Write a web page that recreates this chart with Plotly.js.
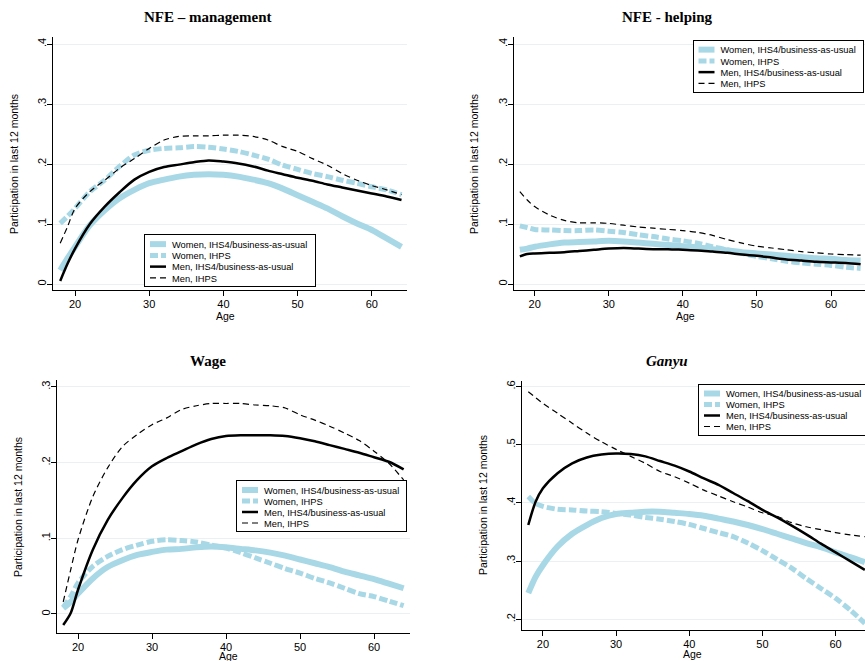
<!DOCTYPE html>
<html><head><meta charset="utf-8">
<script src="https://cdn.plot.ly/plotly-3.0.1.min.js"></script>
<style>html,body{margin:0;padding:0;background:#fff}#chart{width:865px;height:661px}</style>
</head><body><div id="chart"></div>
<script>
// ---------- data ----------
const ages = [18,19,20,22,24,26,28,30,32,34,36,38,40,42,44,46,48,50,52,54,56,58,60,62,64];
const seriesNames = ["Women, IHS4/business-as-usual","Women, IHPS","Men, IHS4/business-as-usual","Men, IHPS"];
const panelTitles = ["<b>NFE \u2013 management</b>","<b>NFE - helping</b>","<b>Wage</b>","<b><i>Ganyu</i></b>"];
const yAxisTitle = "Participation in last 12 months";
const xAxisTitle = "Age";
const xTicks = [20,30,40,50,60];

// NFE – management
const mgmtWomenIHS4 = [.023,.043,.062,.098,.123,.143,.157,.168,.174,.179,.182,.183,.182,.179,.174,.168,.159,.148,.137,.126,.113,.101,.090,.076,.062];
const mgmtWomenIHPS = [.101,.113,.126,.154,.173,.196,.215,.223,.226,.227,.229,.228,.225,.221,.215,.208,.198,.191,.184,.179,.173,.168,.162,.157,.149];
const mgmtMenIHS4   = [.005,.034,.059,.100,.129,.153,.174,.187,.195,.199,.203,.206,.204,.201,.196,.189,.183,.177,.172,.166,.161,.156,.151,.146,.140];
const mgmtMenIHPS   = [.068,.096,.126,.154,.173,.193,.209,.226,.240,.246,.247,.247,.248,.248,.246,.240,.229,.221,.209,.198,.184,.173,.164,.157,.149];

// NFE - helping
const helpWomenIHS4 = [.057,.059,.062,.066,.069,.070,.071,.072,.071,.069,.067,.065,.063,.061,.058,.056,.053,.051,.049,.047,.045,.043,.042,.040,.039];
const helpWomenIHPS = [.097,.094,.091,.090,.089,.089,.090,.088,.086,.082,.079,.075,.072,.068,.062,.057,.051,.046,.042,.038,.035,.033,.031,.028,.026];
const helpMenIHS4   = [.046,.050,.051,.052,.053,.055,.057,.059,.060,.059,.058,.058,.057,.056,.054,.052,.049,.047,.044,.041,.039,.037,.036,.035,.033];
const helpMenIHPS   = [.154,.140,.129,.115,.106,.102,.102,.101,.098,.095,.093,.091,.089,.086,.081,.074,.068,.063,.060,.057,.054,.052,.050,.049,.048];

// Wage
const wageWomenIHS4 = [.0075,.016,.027,.047,.062,.071,.078,.082,.085,.086,.088,.089,.088,.086,.084,.081,.077,.072,.067,.062,.056,.051,.046,.040,.034];
const wageWomenIHPS = [.009,.023,.041,.063,.076,.085,.091,.096,.098,.097,.095,.091,.087,.081,.074,.067,.060,.054,.047,.041,.034,.027,.023,.017,.011];
const wageMenIHS4   = [-.0145,.001,.032,.085,.124,.153,.177,.195,.206,.215,.224,.231,.235,.236,.236,.236,.235,.232,.228,.223,.218,.213,.207,.201,.191];
const wageMenIHPS   = [.016,.058,.098,.155,.193,.221,.237,.250,.259,.270,.275,.278,.278,.278,.276,.275,.272,.263,.256,.248,.239,.229,.215,.199,.177];

// Ganyu
const ganyuWomenIHS4 = [.245,.273,.293,.325,.347,.362,.374,.381,.383,.385,.385,.383,.381,.378,.373,.368,.362,.355,.347,.339,.331,.324,.315,.307,.298];
const ganyuWomenIHPS = [.411,.399,.394,.389,.388,.386,.385,.382,.379,.375,.372,.368,.363,.356,.349,.342,.331,.318,.303,.288,.270,.253,.236,.216,.193];
const ganyuMenIHS4   = [.362,.402,.425,.451,.468,.478,.483,.485,.484,.480,.472,.464,.454,.442,.431,.417,.403,.388,.375,.361,.346,.330,.315,.300,.285];
const ganyuMenIHPS   = [.591,.581,.571,.554,.537,.520,.505,.492,.480,.468,.454,.445,.434,.422,.412,.402,.393,.383,.377,.366,.359,.354,.349,.345,.342];

const yTicksNFE = [0,.1,.2,.3,.4];  const yTextNFE = ["0",".1",".2",".3",".4"];
const yTicksWage = [0,.1,.2,.3];    const yTextWage = ["0",".1",".2",".3"];
const yTicksGanyu = [.2,.3,.4,.5,.6]; const yTextGanyu = [".2",".3",".4",".5",".6"];

// ---------- build ----------
const W = 865, H = 661;
const LB = "#a8d8e6";
const styles = [
  {color:LB, width:6, dash:"solid"},
  {color:LB, width:5, dash:"8px,3px"},
  {color:"#000", width:2.5, dash:"solid"},
  {color:"#000", width:1.2, dash:"6px,4px"}
];
const panels = [
  {series:[mgmtWomenIHS4,mgmtWomenIHPS,mgmtMenIHS4,mgmtMenIHPS], px:[53,407], py:[37,290], xr:[17.03,64.74], yr:[-0.01,0.4117], tv:yTicksNFE, tt:yTextNFE,
   title:[208,17], ytitle:[14,164], xtitle:[226,316], box:{left:144, top:234, w:172, h:53}},
  {series:[helpWomenIHS4,helpWomenIHPS,helpMenIHS4,helpMenIHPS], px:[514,865], py:[37,290], xr:[17.21,64.59], yr:[-0.01,0.4117], tv:yTicksNFE, tt:yTextNFE,
   title:[667,17], ytitle:[474,164], xtitle:[685,316], box:{left:692.5, top:39.5, w:171, h:53}},
  {series:[wageWomenIHS4,wageWomenIHPS,wageMenIHS4,wageMenIHPS], px:[57,410], py:[380,633], xr:[17.16,64.86], yr:[-0.0251,0.309], tv:yTicksWage, tt:yTextWage,
   title:[208,361], ytitle:[18,507], xtitle:[229,656], box:{left:236, top:480, w:171, h:52}},
  {series:[ganyuWomenIHS4,ganyuWomenIHPS,ganyuMenIHS4,ganyuMenIHPS], px:[522,865], py:[380.7,630], xr:[17.14,64.02], yr:[0.1816,0.61], tv:yTicksGanyu, tt:yTextGanyu,
   title:[667,361], ytitle:[483,505], xtitle:[692,654], box:{left:698, top:383.5, w:172, h:52}}
];

const font = "Liberation Sans, Arial, sans-serif";
const data = [];
const layout = {
  width:W, height:H, margin:{l:0,r:0,t:0,b:0, autoexpand:false},
  paper_bgcolor:"#fff", plot_bgcolor:"#fff",
  font:{family:font, color:"#000", size:11},
  showlegend:true, annotations:[]
};
const legendIds = [];
panels.forEach((p,i)=>{
  const n = i===0 ? "" : String(i+1);
  const legId = "legend"+n;
  legendIds.push(legId);
  p.series.forEach((vals,k)=>{
    data.push({
      type:"scatter", mode:"lines", x:ages, y:vals, name:seriesNames[k],
      xaxis:"x"+n, yaxis:"y"+n, legend:legId, hoverinfo:"skip",
      line:{color:styles[k].color, width:styles[k].width, dash:styles[k].dash, shape:"spline", smoothing:0.8}
    });
  });
  layout["xaxis"+n] = {
    domain:[p.px[0]/W, p.px[1]/W], range:p.xr, anchor:"y"+n,
    tickvals:xTicks, ticks:"outside", ticklen:5, tickcolor:"#000", tickwidth:1,
    ticklabelstandoff:-1,
    showline:true, linecolor:"#000", linewidth:1, showgrid:false, zeroline:false,
    tickfont:{family:font, size:11, color:"#000"}, fixedrange:true
  };
  layout["yaxis"+n] = {
    domain:[1-p.py[1]/H, 1-p.py[0]/H], range:p.yr, anchor:"x"+n,
    tickvals:p.tv, ticktext:p.tt, tickangle:-90, ticks:"outside", ticklen:5, tickcolor:"#000", tickwidth:1,
    ticklabelstandoff:-3,
    showline:true, linecolor:"#000", linewidth:1, showgrid:true, gridcolor:"#e9f1f3", gridwidth:1, zeroline:false,
    tickfont:{family:font, size:11, color:"#000"}, fixedrange:true
  };
  layout[legId] = {
    x:p.box.left/W, y:1-p.box.top/H, xanchor:"left", yanchor:"top", xref:"paper", yref:"paper",
    bgcolor:"#fff", bordercolor:"#000", borderwidth:1, itemwidth:30,
    font:{family:font, size:9.3, color:"#000"}, tracegroupgap:0
  };
  layout.annotations.push(
    {text:panelTitles[i], x:p.title[0]/W, y:1-p.title[1]/H, xref:"paper", yref:"paper", showarrow:false,
     xanchor:"center", yanchor:"middle", font:{family:"Liberation Serif, Times New Roman, serif", size:15, color:"#000"}},
    {text:yAxisTitle, x:p.ytitle[0]/W, y:1-p.ytitle[1]/H, xref:"paper", yref:"paper", showarrow:false, textangle:-90,
     xanchor:"center", yanchor:"middle", font:{family:font, size:10.5, color:"#000"}},
    {text:xAxisTitle, x:p.xtitle[0]/W, y:1-p.xtitle[1]/H, xref:"paper", yref:"paper", showarrow:false,
     xanchor:"center", yanchor:"middle", font:{family:font, size:10.5, color:"#000"}}
  );
});

// Compact Stata-style legend boxes (tighter row spacing than Plotly's default).
// Entries are shifted left as a whole so the label starts ~27px inside the box,
// and the line sample is shortened to match.
const ENTRY_SHIFT = -13;
function compactLegends(gd){
  legendIds.forEach((id,i)=>{
    const g = gd.querySelector("g." + id);
    if(!g) return;
    const b = panels[i].box;
    g.setAttribute("transform", "translate(" + b.left + "," + b.top + ")");
    const bg = g.querySelector("rect.bg");
    if(bg){ bg.setAttribute("x",0.5); bg.setAttribute("y",0.5); bg.setAttribute("width", b.w-1); bg.setAttribute("height", b.h-1); }
    const sb = g.querySelector("g.scrollbox");
    if(sb){ sb.removeAttribute("clip-path"); sb.setAttribute("transform","translate(0,0)"); }
    const rowGap = (b.h - 8) / 4;
    g.querySelectorAll("g.traces").forEach((t,k)=>{
      t.setAttribute("transform", "translate(" + (1 + ENTRY_SHIFT) + "," + (4.5 + rowGap*(k+0.5)) + ")");
      t.querySelectorAll("g.legendlines path").forEach(pth=>pth.setAttribute("d","M" + (5 - ENTRY_SHIFT) + ",0h16"));
    });
  });
}
Plotly.newPlot("chart", data, layout, {staticPlot:true, displayModeBar:false}).then(gd=>{
  compactLegends(gd);
});
</script></body></html>
